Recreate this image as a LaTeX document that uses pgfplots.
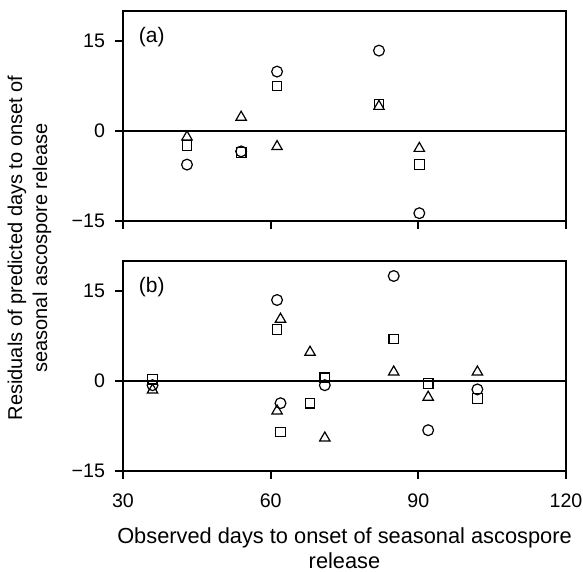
\documentclass[border=0pt]{standalone}
\usepackage{pgfplots}
\pgfplotsset{compat=1.18}
\usepackage{fontspec}
\setmainfont{Liberation Sans}

\pgfplotsset{
  resid/.style={
    scale only axis,
    width=221.5pt, height=105pt,
    xmin=30, xmax=120, ymin=-15, ymax=20,
    xtick={30,60,90,120},
    ytick={-15,0,15},
    yticklabels={−15,0,15},
    tick align=outside,
    xtick pos=bottom, ytick pos=left,
    major tick length=4pt,
    axis line style={line width=0.9pt},
    every tick/.style={black, line width=0.9pt},
    tick label style={font=\fontsize{9.8}{11}\selectfont},
    yticklabel style={xshift=-1.5pt},
    /pgf/number format/assume math mode=true,
    clip=false,
  },
  circ/.style={only marks, mark=o, mark size=2.7pt, mark options={line width=0.6pt, black}},
  sq/.style={only marks, mark=square, mark size=2.4pt, mark options={line width=0.6pt, black}},
  tri/.style={only marks, mark=triangle, mark size=3.0pt, mark options={line width=0.6pt, black}},
}

\begin{document}
\begin{tikzpicture}
  \path[use as bounding box] (-61.5pt,-50.5pt) rectangle (230pt,235.5pt);
  % panel (a)
  \begin{axis}[resid, at={(0,125pt)}, xticklabels={}]
    \draw[line width=0.9pt] (axis cs:30,0) -- (axis cs:120,0);
    \node[font=\fontsize{10.5}{12}\selectfont] at (rel axis cs:0.065,0.874) {(a)};
    \addplot[circ] coordinates {(43,-5.6) (54,-3.4) (61.3,9.9) (82,13.4) (90.2,-13.7)};
    \addplot[sq] coordinates {(43,-2.4) (54,-3.6) (61.3,7.5) (82,4.4) (90.2,-5.6)};
    \addplot[tri] coordinates {(43,-1.0) (54,2.3) (61.3,-2.6) (82,4.1) (90.2,-2.9)};
  \end{axis}
  % panel (b)
  \begin{axis}[resid, at={(0,0)},
      xticklabel style={yshift=-4pt},
      xlabel={Observed days to onset of seasonal ascospore\\release},
      xlabel style={align=center, font=\fontsize{10.9}{12.5}\selectfont, yshift=-3pt}]
    \draw[line width=0.9pt] (axis cs:30,0) -- (axis cs:120,0);
    \node[font=\fontsize{10.5}{12}\selectfont] at (rel axis cs:0.065,0.874) {(b)};
    \addplot[circ] coordinates {(36,-0.7) (61.3,13.5) (62,-3.7) (71,-0.7) (85,17.5) (92,-8.2) (102,-1.4)};
    \addplot[sq] coordinates {(36,0.3) (61.3,8.6) (62,-8.5) (68,-3.7) (71,0.55) (85,7.0) (92,-0.4) (102,-2.9)};
    \addplot[tri] coordinates {(36,-1.5) (62,10.3) (61.3,-5.0) (68,4.8) (71,-9.5) (85,1.5) (92,-2.7) (102,1.5)};
  \end{axis}
  \node[rotate=90, align=center, font=\fontsize{10}{12.5}\selectfont] at (-46.75pt,111.5pt)
    {Residuals of predicted days to onset of\\seasonal ascospore release};
\end{tikzpicture}
\end{document}
